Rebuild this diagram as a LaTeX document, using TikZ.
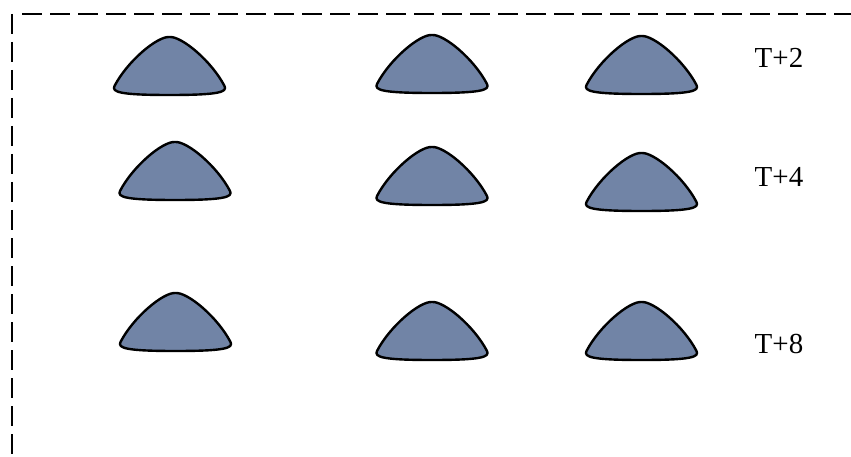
\documentclass[tikz,border=0pt]{standalone}
\usepackage{fontspec}
\setmainfont{Liberation Serif}
\definecolor{moundfill}{RGB}{113,132,166}
\begin{document}
\begin{tikzpicture}[x=1pt,y=-1pt,
  frame/.style={line width=2.5pt,dash pattern=on 20pt off 8pt},
  lbl/.style={font=\fontsize{29}{31}\selectfont,inner sep=0pt,anchor=base},
  mound/.pic={
    \draw[line width=2.4pt,fill=moundfill,line join=round]
      (-55,-9) .. controls (-42,-34) and (-12,-59) .. (0,-58)
      .. controls (12,-59) and (42,-34) .. (55,-9)
      .. controls (58,-3) and (50,0) .. (0,0)
      .. controls (-50,0) and (-58,-3) .. (-55,-9) -- cycle;
  }]
\useasboundingbox (0,0) rectangle (851,457);
\coordinate (tl) at (12,14);
\coordinate (tr) at (851,14);
\coordinate (bl) at (12,457);
\coordinate (ts) at (22,14);
\draw[frame] (tl) -- (bl);
\draw[frame] (ts) -- (tr);
% row T+2
\pic at (169.5,95) {mound};
\pic at (432,93) {mound};
\pic at (641.5,94) {mound};
% row T+4
\pic at (175,200) {mound};
\pic at (432,205) {mound};
\pic at (641.5,211) {mound};
% row T+8
\pic at (175.5,351) {mound};
\pic at (432,360) {mound};
\pic at (641.5,360) {mound};
\node[lbl] (t2) at (779,68) {T+2};
\node[lbl] (t4) at (779,187) {T+4};
\node[lbl] (t8) at (779,353) {T+8};
\end{tikzpicture}
\end{document}
